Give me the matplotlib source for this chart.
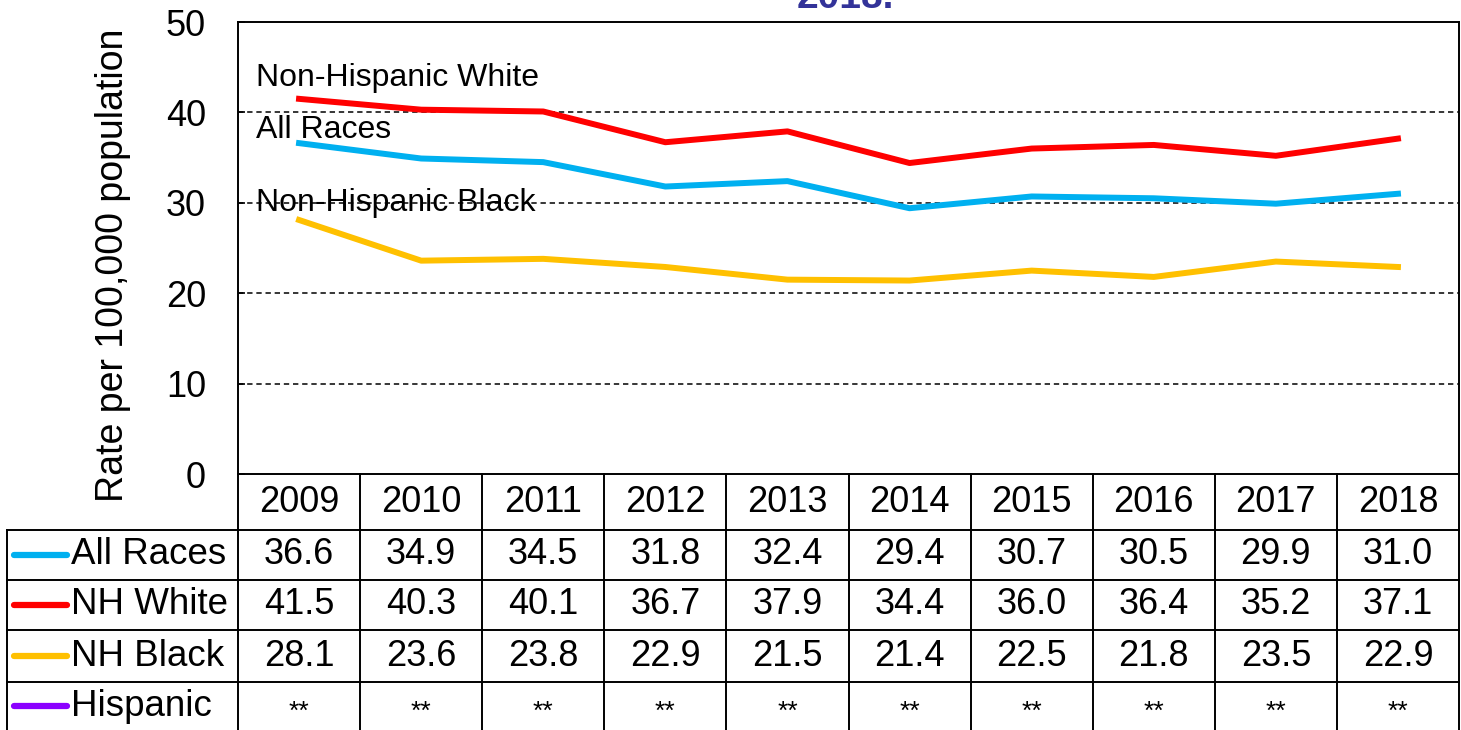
import matplotlib.pyplot as plt
from matplotlib.transforms import blended_transform_factory

plt.rcParams["font.family"] = ["Liberation Sans", "DejaVu Sans"]

years = ["2009", "2010", "2011", "2012", "2013", "2014", "2015", "2016", "2017", "2018"]
all_races = [36.6, 34.9, 34.5, 31.8, 32.4, 29.4, 30.7, 30.5, 29.9, 31.0]
nh_white = [41.5, 40.3, 40.1, 36.7, 37.9, 34.4, 36.0, 36.4, 35.2, 37.1]
nh_black = [28.1, 23.6, 23.8, 22.9, 21.5, 21.4, 22.5, 21.8, 23.5, 22.9]
hispanic = ["**"] * 10

series = [
    ("All Races", all_races, "#00B0F0"),
    ("NH White", nh_white, "#FF0000"),
    ("NH Black", nh_black, "#FFC000"),
    ("Hispanic", None, "#8B00FF"),
]

W, H = 1461, 730
fig = plt.figure(figsize=(W / 100, H / 100), dpi=100)

def fx(px):
    return px / W

def fy(py):
    return 1 - py / H

# plot area in pixels
left, right, top, bottom = 238, 1459, 22, 474
ax = fig.add_axes([fx(left), fy(bottom), fx(right - left), (bottom - top) / H])

x = list(range(len(years)))
for name, vals, col in series:
    if vals is not None:
        ax.plot(x, vals, color=col, lw=4.3, solid_joinstyle="round", zorder=3)

ax.set_xlim(-0.5, len(years) - 0.5)
ax.set_ylim(0, 50)
ax.set_yticks([0, 10, 20, 30, 40, 50])
ax.set_xticks([])
for yv in [10, 20, 30, 40]:
    ax.axhline(yv, color="black", lw=1.1, ls=(0, (3.5, 2.5)), zorder=2)
for s in ax.spines.values():
    s.set_linewidth(1.4)
ax.tick_params(axis="y", direction="in", length=5, width=1.2, labelsize=26, pad=23)
ax.set_ylabel("Rate per 100,000 population", fontsize=27)
ax.yaxis.set_label_coords((131 - left) / (right - left), (bottom - 265) / (bottom - top))

ax.text(-0.35, 43.8, "Non-Hispanic White", fontsize=23, va="center", ha="left")
ax.text(-0.35, 38.1, "All Races", fontsize=23, va="center", ha="left")
ax.text(-0.35, 30.0, "Non-Hispanic Black", fontsize=23, va="center", ha="left", zorder=1)

# title (second line, mostly above the frame)
fig.text(fx(845), fy(8), "2018.", fontsize=28, fontweight="bold", color="#333399",
         ha="center", va="baseline")

# data table below the plot
tr = blended_transform_factory(ax.transData, fig.transFigure)
row_lines = [474, 530, 580, 630, 682, 735]
lw = 1.4
# header row with years
for i, yr in enumerate(years):
    ax.text(i, fy(502), yr, transform=tr, fontsize=26, ha="center", va="center", clip_on=False)
# column borders
for b in range(len(years) + 1):
    ax.plot([b - 0.5, b - 0.5], [fy(474), fy(735)], transform=tr, color="black", lw=lw, clip_on=False)
# label column left border
fig.add_artist(plt.Line2D([fx(7), fx(7)], [fy(530), fy(735)], color="black", lw=lw))
for py in row_lines[1:-1]:
    fig.add_artist(plt.Line2D([fx(7), fx(right)], [fy(py), fy(py)], color="black", lw=lw))

for r, (name, vals, col) in enumerate(series):
    cy = (row_lines[r + 1] + min(row_lines[r + 2], 730)) / 2
    fig.add_artist(plt.Line2D([fx(14), fx(67)], [fy(cy), fy(cy)], color=col, lw=4.5,
                              solid_capstyle="round"))
    fig.text(fx(71), fy(cy), name, fontsize=26.5, ha="left", va="center")
    for i in range(len(years)):
        if vals is not None:
            ax.text(i, fy(cy), f"{vals[i]:.1f}", transform=tr, fontsize=26,
                    ha="center", va="center", clip_on=False)
        else:
            ax.text(i, fy(cy + 6), hispanic[i], transform=tr, fontsize=19,
                    ha="center", va="center", clip_on=False)

fig.savefig("out.png", dpi=100)
